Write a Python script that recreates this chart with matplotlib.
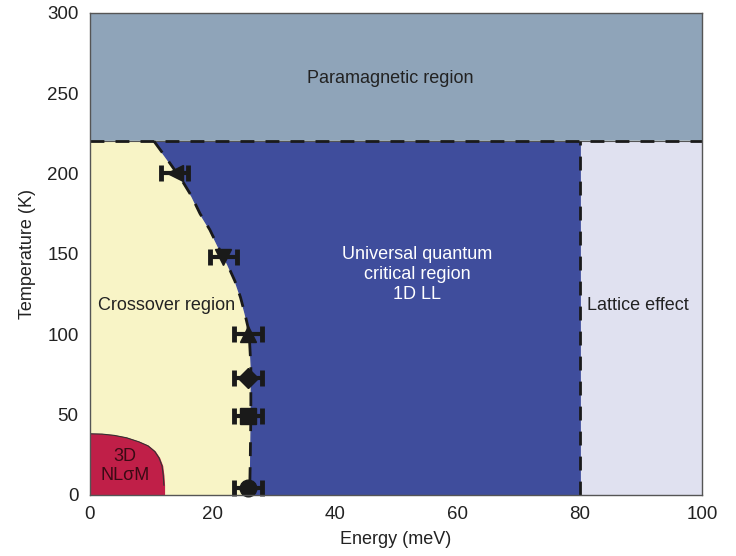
import matplotlib.pyplot as plt
import numpy as np

plt.rcParams['font.family'] = ['Liberation Sans', 'DejaVu Sans']

# phase boundary between crossover and quantum critical region (E, T)
boundary_E = [10.5, 12.6, 15.0, 16.6, 18.0, 19.6, 21.0, 22.4, 23.7, 24.6, 25.3, 25.8,
              26.1, 26.3, 26.3, 26.2, 26.1]
boundary_T = [220, 209, 196, 186, 175, 165, 154, 144, 133, 123, 113, 105,
              95, 80, 50, 20, 0]

# 3D NLsM region outline
nlsm_E = [0, 2, 4, 6, 8, 9.5, 10.6, 11.3, 11.8, 12.0, 12.1, 12.1]
nlsm_T = [38, 37.8, 37, 35.5, 33, 30.5, 27, 23, 18, 12, 6, 0]

# measured points with error bars
pt_E = [13.9, 21.8, 25.8, 25.8, 25.8, 25.8]
pt_T = [200, 148, 100, 73, 49, 4.5]
pt_err = [2.2, 2.2, 2.3, 2.3, 2.3, 2.3]
pt_marker = ['<', 'v', '^', 'D', 's', 'o']

T_para = 220
E_lattice = 80

fig, ax = plt.subplots(figsize=(7.36, 5.56), dpi=100)
fig.subplots_adjust(left=0.122, right=0.954, top=0.977, bottom=0.11)

ax.set_xlim(0, 100)
ax.set_ylim(0, 300)

# background regions
ax.axhspan(T_para, 300, color='#8fa4b9', zorder=0)
ax.fill_between([0, 100], 0, T_para, color='#f8f4c6', zorder=0)
ax.fill_between([E_lattice, 100], 0, T_para, color='#e0e1f0', zorder=1)
ax.fill_betweenx(boundary_T, boundary_E, E_lattice, color='#3f4d9c', zorder=1)
ax.fill_between(nlsm_E, 0, nlsm_T, color='#c01f48', zorder=1)
ax.plot(nlsm_E[:-1], nlsm_T[:-1], color='#333333', lw=0.8, zorder=2)

# boundaries
ax.axhline(T_para, color='#555555', lw=0.8, zorder=2)
ax.axhline(T_para, color='#1a1a1a', lw=2, ls=(0, (5, 4)), zorder=3)
ax.plot([E_lattice, E_lattice], [0, T_para], color='#1a1a1a', lw=2, ls=(0, (5, 4)), zorder=3)
ax.plot(boundary_E, boundary_T, color='#1a1a1a', lw=2, ls=(0, (5, 4)), zorder=3)

for e, t, err, m in zip(pt_E, pt_T, pt_err, pt_marker):
    ax.errorbar(e, t, xerr=err, fmt=m, color='#1a1a1a', ms=12 if m != 'D' else 10,
                elinewidth=3, capsize=6, capthick=3.5, zorder=4, clip_on=False)

# labels
ax.text(49, 259, 'Paramagnetic region', ha='center', va='center', fontsize=13, color='#222222')
ax.text(53.5, 137, 'Universal quantum\ncritical region\n1D LL', ha='center', va='center',
        fontsize=13, color='white', linespacing=1.25)
ax.text(12.5, 118, 'Crossover region', ha='center', va='center', fontsize=13, color='#222222')
ax.text(89.5, 118, 'Lattice effect', ha='center', va='center', fontsize=13, color='#222222')
ax.text(5.8, 18, '3D\nNLσM', ha='center', va='center', fontsize=13, color='#3a0a14',
        linespacing=1.2)

ax.set_xticks([0, 20, 40, 60, 80, 100])
ax.set_yticks([0, 50, 100, 150, 200, 250, 300])
ax.tick_params(length=0, labelsize=13.5, labelcolor='#222222', pad=8)
ax.set_xlabel('Energy (meV)', fontsize=13, color='#222222', labelpad=6)
ax.set_ylabel('Temperature (K)', fontsize=13, color='#222222', labelpad=8)
for s in ax.spines.values():
    s.set_color('#555555')
    s.set_linewidth(1)
    s.set_zorder(5)

fig.savefig('out.png', dpi=100)
